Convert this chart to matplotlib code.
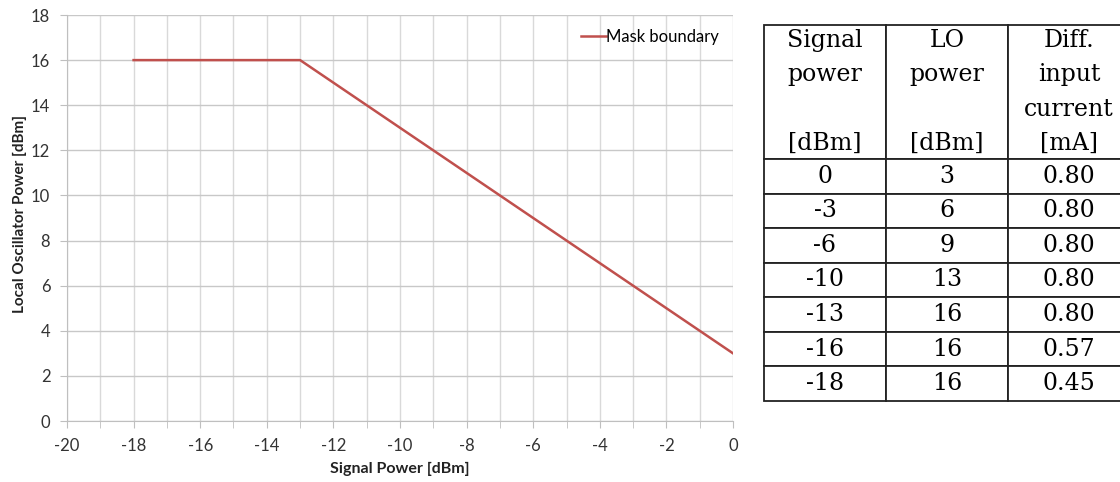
import numpy as np
import matplotlib
matplotlib.use("Agg")
import matplotlib.pyplot as plt

# mask boundary (signal power vs LO power)
signal_power = [-18, -13, 0]
lo_power = [16, 16, 3]

# table data
tbl_signal = ["0", "-3", "-6", "-10", "-13", "-16", "-18"]
tbl_lo = ["3", "6", "9", "13", "16", "16", "16"]
tbl_current = ["0.80", "0.80", "0.80", "0.80", "0.80", "0.57", "0.45"]
tbl_header = ["Signal\npower\n\n[dBm]", "LO\npower\n\n[dBm]", "Diff.\ninput\ncurrent\n[mA]"]

W, H = 1120, 482
fig = plt.figure(figsize=(W / 100, H / 100), dpi=100)
plt.rcParams['font.family'] = ['Lato', 'DejaVu Sans']
plt.rcParams['axes.unicode_minus'] = False

grid_c = '#d9d9d9'
ax = fig.add_axes([67 / W, 1 - 421 / H, (733 - 67) / W, (421 - 15) / H])
ax.plot(signal_power, lo_power, color='#c0504d', lw=1.8, label='Mask boundary')
ax.set_xlim(-20, 0)
ax.set_ylim(0, 18)
ax.set_xticks(np.arange(-20, 1, 2))
ax.set_xticks(np.arange(-20, 1, 1), minor=True)
ax.set_yticks(np.arange(0, 19, 2))
ax.grid(True, which='both', axis='x', color=grid_c, lw=1)
ax.grid(True, which='major', axis='y', color='#c8c8c8', lw=1)
ax.set_axisbelow(True)
for s in ['top', 'right']:
    ax.spines[s].set_visible(False)
for s in ['left', 'bottom']:
    ax.spines[s].set_color('#bfbfbf')
ax.tick_params(which='both', direction='out', length=5, color='#bfbfbf',
               labelsize=12, labelcolor='#333333', pad=7)
ax.set_xlabel('Signal Power [dBm]', fontsize=11.5, fontweight='bold', color='#222222',
              labelpad=6)
ax.set_ylabel('Local Oscillator Power [dBm]', fontsize=11, fontweight='bold', color='#222222')
ax.yaxis.set_label_coords(-0.06, 0.51)
leg = ax.legend(loc='upper right', frameon=False, fontsize=12, handlelength=1.5,
                handletextpad=0.0, borderaxespad=0.45)

# table
tax = fig.add_axes([764 / W, 1 - 401 / H, (1130 - 764) / W, (401 - 25) / H])
tax.axis('off')
rows = [list(r) for r in zip(tbl_signal, tbl_lo, tbl_current)]
tb = tax.table(cellText=rows, colLabels=tbl_header, cellLoc='center',
               bbox=[0, 0, 1, 1])
tb.auto_set_font_size(False)
row_h = 34.6
head_h = 134
for (r, c), cell in tb.get_celld().items():
    cell.set_height(head_h if r == 0 else row_h)
    cell.set_width(1 / 3)
    cell.set_edgecolor('#222222')
    cell.set_linewidth(1.3)
    txt = cell.get_text()
    txt.set_fontsize(17)
    txt.set_fontfamily('DejaVu Serif')
    txt.set_linespacing(1.62)

fig.savefig('out.png', dpi=100)
